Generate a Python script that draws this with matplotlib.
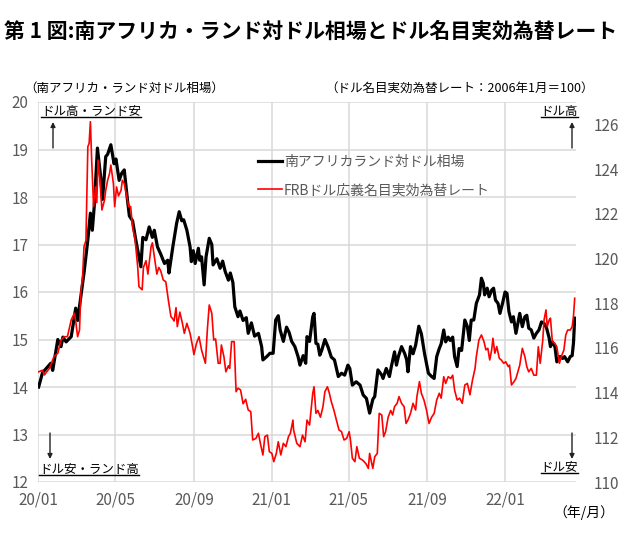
import matplotlib
matplotlib.use('Agg')
import matplotlib.pyplot as plt
import matplotlib.dates as mdates
import pandas as pd
from matplotlib.lines import Line2D

plt.rcParams['font.family'] = ['Noto Sans CJK JP', 'DejaVu Sans']

title = '第 1 図:南アフリカ・ランド対ドル相場とドル名目実効為替レート'
zar_label = '南アフリカランド対ドル相場'
usd_label = 'FRBドル広義名目実効為替レート'

zar_dates = ["2020-01-02","2020-01-08","2020-01-21","2020-01-24","2020-02-01","2020-02-06","2020-02-09","2020-02-14","2020-02-22","2020-02-29",
"2020-03-03","2020-03-08","2020-03-13","2020-03-19","2020-03-23","2020-03-26","2020-03-29","2020-04-03","2020-04-08","2020-04-11",
"2020-04-16","2020-04-19","2020-04-24","2020-04-29","2020-05-02","2020-05-07","2020-05-11","2020-05-15","2020-05-20","2020-05-23",
"2020-05-28","2020-06-02","2020-06-07","2020-06-10","2020-06-13","2020-06-18","2020-06-23","2020-06-28","2020-07-01","2020-07-06",
"2020-07-11","2020-07-17","2020-07-22","2020-07-24","2020-07-27","2020-07-30","2020-08-05","2020-08-09","2020-08-13","2020-08-16",
"2020-08-21","2020-08-26","2020-08-28","2020-08-31","2020-09-03","2020-09-08","2020-09-10","2020-09-13","2020-09-17","2020-09-20",
"2020-09-25","2020-09-29","2020-10-01","2020-10-07","2020-10-12","2020-10-16","2020-10-20","2020-10-25","2020-10-28","2020-11-01",
"2020-11-04","2020-11-09","2020-11-12","2020-11-17","2020-11-22","2020-11-25","2020-11-30","2020-12-05","2020-12-11","2020-12-16",
"2020-12-18","2020-12-24","2020-12-29","2021-01-03","2021-01-07","2021-01-11","2021-01-14","2021-01-19","2021-01-24","2021-01-28",
"2021-02-01","2021-02-06","2021-02-11","2021-02-14","2021-02-19","2021-02-23","2021-02-25","2021-03-01","2021-03-06","2021-03-08",
"2021-03-11","2021-03-14","2021-03-17","2021-03-20","2021-03-25","2021-03-30","2021-04-04","2021-04-09","2021-04-15","2021-04-20",
"2021-04-25","2021-04-30","2021-05-03","2021-05-07","2021-05-13","2021-05-19","2021-05-24","2021-05-29","2021-06-03","2021-06-08",
"2021-06-11","2021-06-16","2021-06-22","2021-06-24","2021-06-29","2021-07-04","2021-07-07","2021-07-12","2021-07-15","2021-07-18",
"2021-07-23","2021-07-28","2021-07-31","2021-08-02","2021-08-06","2021-08-10","2021-08-14","2021-08-19","2021-08-23","2021-08-28",
"2021-09-03","2021-09-08","2021-09-12","2021-09-16","2021-09-20","2021-09-23","2021-09-27","2021-09-30","2021-10-04","2021-10-07",
"2021-10-11","2021-10-14","2021-10-18","2021-10-21","2021-10-25","2021-10-30","2021-11-03","2021-11-06","2021-11-09","2021-11-13",
"2021-11-17","2021-11-22","2021-11-25","2021-11-28","2021-11-30","2021-12-04","2021-12-07","2021-12-11","2021-12-14","2021-12-17",
"2021-12-21","2021-12-24","2021-12-28","2022-01-01","2022-01-04","2022-01-07","2022-01-11","2022-01-14","2022-01-18","2022-01-21",
"2022-01-24","2022-01-28","2022-02-01","2022-02-04","2022-02-07","2022-02-11","2022-02-15","2022-02-19","2022-02-23","2022-02-27",
"2022-03-03","2022-03-07","2022-03-11","2022-03-13","2022-03-16","2022-03-20","2022-03-23","2022-03-28","2022-04-01","2022-04-04",
"2022-04-09","2022-04-13","2022-04-16","2022-04-18","2022-04-20"]

zar_values = [14.00,14.30,14.50,14.35,15.00,14.85,15.05,14.95,15.06,15.66,
15.40,15.90,16.40,17.10,17.66,17.30,17.80,19.03,18.43,17.95,
18.85,18.90,19.10,18.70,18.80,18.35,18.50,18.57,17.94,17.60,
17.50,17.10,16.74,16.53,17.15,17.10,17.37,17.15,17.30,16.95,
16.80,16.60,16.67,16.40,16.67,16.95,17.45,17.69,17.50,17.52,
17.30,16.95,16.64,16.87,16.60,16.92,16.67,16.74,16.15,16.74,
17.13,17.00,16.57,16.70,16.50,16.65,16.43,16.25,16.40,16.20,
15.69,15.48,15.60,15.40,15.46,15.13,15.35,15.07,15.13,14.85,
14.57,14.64,14.71,14.71,15.41,15.50,15.20,14.96,15.26,15.15,
14.96,14.85,14.64,14.46,14.66,14.50,15.06,14.96,15.48,15.55,
14.92,14.90,14.67,14.77,15.00,14.84,14.63,14.57,14.22,14.29,
14.25,14.46,14.39,14.04,14.11,14.04,13.83,13.76,13.45,13.74,
13.80,14.36,14.25,14.18,14.39,14.22,14.43,14.74,14.46,14.64,
14.85,14.70,14.57,14.32,14.85,14.70,14.88,15.28,15.12,14.70,
14.29,14.22,14.18,14.64,14.81,14.91,15.20,14.95,15.05,14.98,
15.05,14.64,14.43,14.81,14.77,15.41,15.27,14.98,15.41,15.41,
15.76,15.94,16.29,16.18,15.94,16.08,15.90,16.04,16.08,15.83,
15.76,15.55,15.76,16.00,15.97,15.59,15.37,15.48,15.13,15.34,
15.55,15.27,15.48,15.51,15.24,15.20,15.03,15.13,15.20,15.37,
15.34,15.24,15.03,14.85,14.95,14.85,14.53,14.64,14.60,14.64,
14.53,14.64,14.66,14.92,15.45]

usd_dates = ["2020-01-02","2020-01-08","2020-01-11","2020-01-19","2020-01-26","2020-02-01","2020-02-06","2020-02-11","2020-02-16","2020-02-22",
"2020-02-27","2020-02-29","2020-03-03","2020-03-06","2020-03-08","2020-03-11","2020-03-13","2020-03-16","2020-03-19","2020-03-21",
"2020-03-23","2020-03-25","2020-03-28","2020-03-31","2020-04-02","2020-04-04","2020-04-07","2020-04-10","2020-04-14","2020-04-16",
"2020-04-19","2020-04-22","2020-04-24","2020-04-28","2020-04-30","2020-05-03","2020-05-06","2020-05-10","2020-05-12","2020-05-15",
"2020-05-18","2020-05-22","2020-05-25","2020-05-28","2020-06-01","2020-06-05","2020-06-07","2020-06-12","2020-06-14","2020-06-18",
"2020-06-21","2020-06-26","2020-06-28","2020-07-01","2020-07-05","2020-07-08","2020-07-11","2020-07-15","2020-07-19","2020-07-23",
"2020-07-27","2020-07-30","2020-08-01","2020-08-04","2020-08-06","2020-08-10","2020-08-14","2020-08-17","2020-08-21","2020-08-26",
"2020-08-30","2020-09-01","2020-09-05","2020-09-09","2020-09-13","2020-09-19","2020-09-22","2020-09-25","2020-09-29","2020-10-02",
"2020-10-05","2020-10-09","2020-10-12","2020-10-14","2020-10-18","2020-10-21","2020-10-25","2020-10-27","2020-10-30","2020-11-03",
"2020-11-06","2020-11-09","2020-11-13","2020-11-17","2020-11-21","2020-11-25","2020-11-29","2020-12-02","2020-12-07","2020-12-11",
"2020-12-14","2020-12-18","2020-12-21","2020-12-25","2020-12-28","2021-01-01","2021-01-04","2021-01-08","2021-01-11","2021-01-15",
"2021-01-19","2021-01-23","2021-01-27","2021-01-30","2021-02-03","2021-02-04","2021-02-09","2021-02-14","2021-02-18","2021-02-22",
"2021-02-25","2021-03-01","2021-03-06","2021-03-08","2021-03-11","2021-03-14","2021-03-18","2021-03-22","2021-03-25","2021-03-29",
"2021-04-01","2021-04-04","2021-04-08","2021-04-12","2021-04-16","2021-04-20","2021-04-24","2021-04-28","2021-05-02","2021-05-04",
"2021-05-07","2021-05-11","2021-05-14","2021-05-18","2021-05-23","2021-05-28","2021-06-01","2021-06-03","2021-06-08","2021-06-11",
"2021-06-15","2021-06-18","2021-06-22","2021-06-25","2021-06-28","2021-07-02","2021-07-06","2021-07-09","2021-07-12","2021-07-16",
"2021-07-19","2021-07-23","2021-07-27","2021-07-30","2021-08-02","2021-08-06","2021-08-10","2021-08-14","2021-08-16","2021-08-20",
"2021-08-23","2021-08-27","2021-08-31","2021-09-04","2021-09-08","2021-09-12","2021-09-16","2021-09-20","2021-09-23","2021-09-27",
"2021-09-30","2021-10-04","2021-10-08","2021-10-11","2021-10-14","2021-10-18","2021-10-22","2021-10-26","2021-10-30","2021-11-03",
"2021-11-07","2021-11-11","2021-11-15","2021-11-17","2021-11-21","2021-11-25","2021-11-29","2021-12-02","2021-12-05","2021-12-08",
"2021-12-11","2021-12-13","2021-12-16","2021-12-19","2021-12-23","2021-12-26","2021-12-30","2022-01-02","2022-01-06","2022-01-08",
"2022-01-11","2022-01-15","2022-01-18","2022-01-21","2022-01-24","2022-01-28","2022-02-01","2022-02-04","2022-02-07","2022-02-11",
"2022-02-15","2022-02-19","2022-02-22","2022-02-25","2022-03-01","2022-03-03","2022-03-06","2022-03-08","2022-03-11","2022-03-13",
"2022-03-16","2022-03-20","2022-03-23","2022-03-27","2022-03-30","2022-04-03","2022-04-06","2022-04-09","2022-04-13","2022-04-16",
"2022-04-18","2022-04-20"]

usd_values = [114.93,115.00,114.79,115.09,115.61,115.76,116.35,116.50,116.50,117.25,
117.55,117.20,116.50,116.80,118.44,119.30,120.53,120.80,125.00,125.15,
126.12,124.40,122.32,123.20,122.50,124.40,123.50,122.17,122.60,123.05,
123.50,123.80,124.18,123.35,122.32,123.20,122.80,123.05,123.50,123.35,
122.90,122.32,122.32,121.40,120.83,119.63,118.74,118.60,119.60,119.90,
119.30,120.53,120.70,120.10,119.30,119.60,119.45,119.04,118.96,118.14,
117.40,117.30,117.20,117.80,116.95,117.60,117.10,116.65,117.10,116.65,
116.05,115.70,116.20,116.50,115.90,115.31,116.80,117.92,117.55,116.35,
116.40,115.31,115.31,116.13,115.60,114.93,115.20,115.08,116.28,116.28,
114.04,114.20,114.12,113.50,113.70,113.22,113.15,111.88,111.95,112.18,
111.73,111.21,112.03,112.10,111.36,111.28,110.91,111.28,111.80,111.21,
111.73,111.58,112.03,112.18,112.77,112.33,111.73,111.58,112.10,111.80,
112.77,112.55,113.97,114.26,113.07,113.20,112.90,113.37,114.04,114.26,
113.97,113.60,113.22,112.77,112.33,112.25,111.88,111.95,112.25,111.88,
111.06,110.91,111.58,111.06,110.98,110.83,110.61,111.28,110.61,111.13,
111.28,113.07,113.00,112.03,112.25,112.90,113.20,113.00,113.37,113.52,
113.82,113.52,113.37,112.62,112.77,113.07,113.52,113.22,113.82,114.49,
113.97,113.67,113.22,112.62,112.90,113.07,113.67,113.97,113.75,114.71,
114.41,114.71,114.63,114.78,114.11,113.67,113.75,113.52,114.34,114.41,
113.90,114.56,115.08,115.61,116.35,116.58,116.28,115.91,115.98,115.46,
115.91,116.43,115.76,116.06,115.53,115.46,115.31,115.38,115.16,115.23,
114.34,114.49,114.63,114.93,115.23,115.98,115.61,115.16,114.93,115.08,
114.78,114.78,116.05,115.31,116.35,117.25,117.70,116.95,117.25,117.33,
116.28,116.20,116.05,115.31,115.61,115.90,116.58,116.80,116.80,116.95,
117.40,118.22]

x_ticks = ["2020-01-01","2020-05-01","2020-09-01","2021-01-01","2021-05-01","2021-09-01","2022-01-01"]
x_range = ["2020-01-01", "2022-04-22"]
left_ticks = [12, 13, 14, 15, 16, 17, 18, 19, 20]
right_ticks = [110, 112, 114, 116, 118, 120, 122, 124, 126]
right_range = [110, 127]

W, H = 624, 536
fig = plt.figure(figsize=(W / 100, H / 100), dpi=100)
fig.patch.set_facecolor('white')

def fx(px):
    return px / W

def fy(py):
    return 1 - py / H

ax1 = fig.add_axes([fx(38), fy(482), fx(576) - fx(38), fy(102) - fy(482)])
ax2 = ax1.twinx()

l1, = ax1.plot(pd.to_datetime(zar_dates), zar_values, color='black', lw=2.3,
               label=zar_label, solid_joinstyle='round')
l2, = ax2.plot(pd.to_datetime(usd_dates), usd_values, color='#ff0000', lw=1.2,
               label=usd_label)

ax1.set_xlim(pd.to_datetime(x_range[0]), pd.to_datetime(x_range[1]))
ax1.set_ylim(left_ticks[0], left_ticks[-1])
ax2.set_ylim(*right_range)
ax1.set_xticks(pd.to_datetime(x_ticks))
ax1.xaxis.set_major_formatter(mdates.DateFormatter('%y/%m'))
ax1.set_yticks(left_ticks)
ax2.set_yticks(right_ticks)

ax1.grid(True, color='#d9d9d9', lw=1.1)
ax1.set_axisbelow(True)
for ax in (ax1, ax2):
    for s in ax.spines.values():
        s.set_visible(False)
    ax.tick_params(length=0, labelsize=11, labelcolor='#595959')
ax1.tick_params(axis='y', pad=7)
ax1.tick_params(axis='x', pad=7)
ax2.tick_params(axis='y', pad=13)

fig.legend(handles=[l1, l2], loc='upper left', bbox_to_anchor=(fx(252), fy(149)),
           frameon=False, fontsize=10, labelcolor='#595959', handlelength=1.75,
           handletextpad=0.15, labelspacing=1.05, borderaxespad=0)

fig.text(fx(4), fy(31), title, fontsize=15, fontweight='bold', va='center', ha='left')
fig.text(fx(24), fy(88), '（南アフリカ・ランド対ドル相場）', fontsize=9, va='center', ha='left')
fig.text(fx(594), fy(88), '（ドル名目実効為替レート：2006年1月＝100）', fontsize=9,
         va='center', ha='right')
fig.text(fx(614), fy(513), '（年/月）', fontsize=10, va='center', ha='right')

notes = [
    (fx(41), fy(112), 'ドル高・ランド安', 'left'),
    (fx(578), fy(112), 'ドル高', 'right'),
    (fx(39), fy(470), 'ドル安・ランド高', 'left'),
    (fx(578), fy(468), 'ドル安', 'right'),
]
note_texts = []
for x, y, s, ha in notes:
    note_texts.append(fig.text(x, y, s, fontsize=9, va='center', ha=ha, color='black'))

arrows = [
    (53, 148, 122),
    (572, 148, 122),
    (50, 433, 459),
    (572, 433, 459),
]
for x, y0, y1 in arrows:
    fig.add_artist(matplotlib.patches.FancyArrowPatch(
        (fx(x), fy(y0)), (fx(x), fy(y1)), transform=fig.transFigure,
        arrowstyle='-|>', mutation_scale=7, color='#222222', lw=1.0,
        shrinkA=0, shrinkB=0))

fig.canvas.draw()
renderer = fig.canvas.get_renderer()
inv = fig.transFigure.inverted()
for t in note_texts:
    bb = t.get_window_extent(renderer).transformed(inv)
    fig.add_artist(Line2D([bb.x0, bb.x1], [bb.y0 + 0.002, bb.y0 + 0.002],
                          transform=fig.transFigure, color='black', lw=1.0))

fig.savefig('out.png', dpi=100, facecolor='white')
